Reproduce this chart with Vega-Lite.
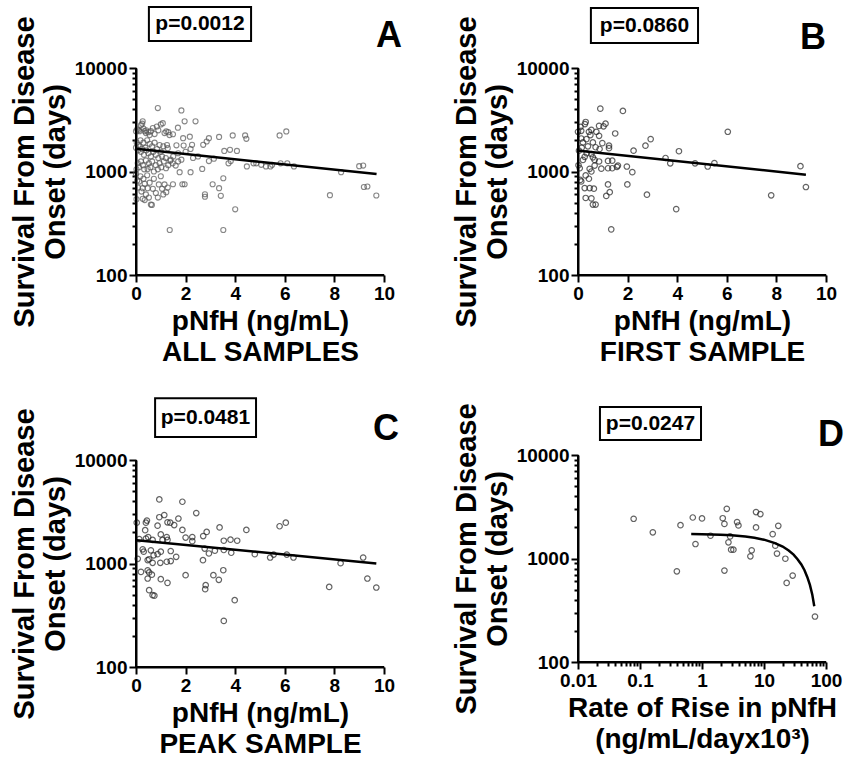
{
  "$schema": "https://vega.github.io/schema/vega-lite/v6.json",
  "background": "white",
  "padding": {"left": 10, "top": 6, "right": 0, "bottom": 0},
  "bounds": "flush",
  "spacing": 442,
  "config": {
    "font": "Liberation Sans",
    "view": {"stroke": null},
    "axis": {
      "domainColor": "black", "domainWidth": 2, "tickColor": "black", "tickWidth": 2, "zindex": 1,
      "labelFont": "Liberation Sans", "labelFontWeight": "bold", "labelFontSize": 19, "labelColor": "black",
      "titleFont": "Liberation Sans", "titleFontWeight": "bold", "titleFontSize": 28, "titleColor": "black",
      "grid": false, "labelPadding": 2, "titlePadding": 4, "titleLineHeight": 31, "labelFlush": false,
      "labelOverlap": false, "labelSeparation": -50, "labelBound": false
    },
    "axisY": {"titleFontSize": 29}
  },
  "datasets": {
    "A": [
      {"x":0.0,"y":2450},{"x":0.05,"y":2550},{"x":0.1,"y":2500},{"x":0.14,"y":2450},{"x":0.2,"y":2800},{"x":0.25,"y":2900},{"x":0.27,"y":3050},{"x":0.3,"y":2600},{"x":0.35,"y":2450},{"x":0.4,"y":2350},{"x":0.41,"y":2500},{"x":0.5,"y":2400},{"x":0.55,"y":2250},{"x":0.6,"y":2450},{"x":0.68,"y":2630},{"x":0.75,"y":2300},{"x":0.84,"y":2720},{"x":0.9,"y":2500},{"x":1.0,"y":2850},{"x":1.08,"y":2930},{"x":1.15,"y":2350},{"x":1.22,"y":2440},{"x":1.3,"y":2400},{"x":1.35,"y":2250},
      {"x":0.0,"y":1700},{"x":0.03,"y":1900},{"x":0.08,"y":1600},{"x":0.1,"y":1800},{"x":0.15,"y":1750},{"x":0.18,"y":2000},{"x":0.2,"y":1550},{"x":0.25,"y":1650},{"x":0.3,"y":1900},{"x":0.32,"y":1450},{"x":0.38,"y":1700},{"x":0.42,"y":1600},{"x":0.45,"y":2000},{"x":0.5,"y":1500},{"x":0.55,"y":1850},{"x":0.6,"y":1400},{"x":0.65,"y":1750},{"x":0.7,"y":1550},{"x":0.75,"y":1900},{"x":0.8,"y":1450},{"x":0.85,"y":1650},{"x":0.9,"y":1350},{"x":0.95,"y":1800},{"x":1.0,"y":1550},{"x":1.05,"y":1400},{"x":1.1,"y":1750},{"x":1.2,"y":1350},{"x":1.25,"y":1800},{"x":1.28,"y":1680},{"x":1.4,"y":1300},{"x":1.5,"y":1400},
      {"x":0.02,"y":1050},{"x":0.07,"y":1200},{"x":0.12,"y":1100},{"x":0.2,"y":1250},{"x":0.28,"y":1150},{"x":0.33,"y":1050},{"x":0.4,"y":1280},{"x":0.47,"y":1060},{"x":0.52,"y":1200},{"x":0.58,"y":1100},{"x":0.65,"y":1250},{"x":0.72,"y":1000},{"x":0.8,"y":1150},{"x":0.88,"y":1050},{"x":0.95,"y":1200},{"x":1.02,"y":1100},{"x":1.12,"y":1250},{"x":1.21,"y":1075},{"x":1.3,"y":1150},{"x":1.38,"y":1270},{"x":1.48,"y":1200},{"x":1.6,"y":1140},{"x":1.7,"y":1250},{"x":1.83,"y":1300},
      {"x":0.0,"y":950},{"x":0.05,"y":820},{"x":0.08,"y":700},{"x":0.13,"y":800},{"x":0.18,"y":900},{"x":0.22,"y":640},{"x":0.27,"y":690},{"x":0.3,"y":850},{"x":0.35,"y":760},{"x":0.4,"y":600},{"x":0.45,"y":920},{"x":0.47,"y":690},{"x":0.52,"y":560},{"x":0.55,"y":780},{"x":0.6,"y":480},{"x":0.64,"y":475},{"x":0.68,"y":680},{"x":0.72,"y":850},{"x":0.8,"y":620},{"x":0.88,"y":560},{"x":0.92,"y":750},{"x":1.0,"y":900},{"x":1.05,"y":680},{"x":1.1,"y":600},{"x":1.15,"y":750},{"x":1.22,"y":630},{"x":1.28,"y":700},{"x":0.02,"y":540},{"x":0.27,"y":545},{"x":0.35,"y":530},
      {"x":0.88,"y":4100},{"x":1.83,"y":3890},{"x":2.4,"y":3050},{"x":1.96,"y":3050},{"x":3.35,"y":2160},{"x":3.9,"y":2230},{"x":4.4,"y":2230},{"x":4.45,"y":2070},{"x":5.79,"y":2230},{"x":6.06,"y":2440},{"x":2.94,"y":2100},{"x":2.85,"y":1950},{"x":2.71,"y":1810},{"x":2.17,"y":2170},{"x":1.9,"y":2100},{"x":1.69,"y":2650},{"x":1.49,"y":2290},{"x":1.63,"y":1790},{"x":1.92,"y":1780},{"x":2.26,"y":1810},{"x":2.3,"y":1350},{"x":3.56,"y":1580},{"x":3.79,"y":1620},{"x":4.07,"y":1580},{"x":3.14,"y":1330},{"x":2.94,"y":1260},{"x":3.73,"y":1200},{"x":3.82,"y":1260},{"x":4.47,"y":1120},{"x":4.74,"y":1200},{"x":4.85,"y":1200},{"x":5.05,"y":1160},{"x":5.24,"y":1120},{"x":5.42,"y":1120},{"x":5.49,"y":1160},{"x":5.83,"y":1200},{"x":6.1,"y":1200},{"x":6.37,"y":1120},{"x":8.27,"y":986},{"x":7.82,"y":590},{"x":2.67,"y":1060},{"x":2.2,"y":986},{"x":1.76,"y":986},{"x":3.52,"y":861},{"x":3.09,"y":753},{"x":3.35,"y":690},{"x":3.42,"y":582},{"x":2.78,"y":603},{"x":2.78,"y":570},{"x":1.87,"y":753},{"x":1.96,"y":753},{"x":1.49,"y":753},{"x":4.0,"y":431},{"x":1.36,"y":272},{"x":3.52,"y":272},{"x":9.0,"y":1125},{"x":9.16,"y":1142},{"x":9.33,"y":716},{"x":9.19,"y":708},{"x":9.69,"y":586},{"x":2.0,"y":1550},{"x":2.2,"y":1650},{"x":1.7,"y":1500},{"x":2.5,"y":1400}
    ],
    "B": [
      {"x":0.9,"y":4050},{"x":1.81,"y":3850},{"x":1.5,"y":2330},{"x":6.04,"y":2420},{"x":2.72,"y":1775},{"x":2.93,"y":2055},{"x":2.24,"y":1590},{"x":4.07,"y":1570},{"x":3.53,"y":1350},{"x":3.72,"y":1200},{"x":4.72,"y":1200},{"x":5.23,"y":1117},{"x":5.5,"y":1205},{"x":8.97,"y":1125},{"x":9.19,"y":708},{"x":7.79,"y":589},{"x":3.96,"y":433},{"x":2.78,"y":597},{"x":1.97,"y":1117},{"x":2.19,"y":986},{"x":1.99,"y":750},{"x":1.34,"y":276},{"x":1.21,"y":750},{"x":1.28,"y":631},{"x":1.14,"y":581},{"x":1.38,"y":1273},{"x":1.21,"y":1265},{"x":1.61,"y":1140},{"x":1.57,"y":1110},{"x":1.38,"y":1075},{"x":1.21,"y":1075},{"x":0.94,"y":1065},{"x":1.25,"y":1775},{"x":1.25,"y":1680},{"x":0.98,"y":1880},{"x":1.11,"y":2900},{"x":1.03,"y":2730},{"x":0.85,"y":2760},{"x":0.85,"y":2210},{"x":0.74,"y":2420},{"x":0.54,"y":2530},{"x":0.44,"y":2420},{"x":0.31,"y":3010},{"x":0.28,"y":2870},{"x":0.13,"y":2470},{"x":0.0,"y":2420},{"x":0.13,"y":2085},{"x":0.34,"y":2055},{"x":0.04,"y":1590},{"x":0.6,"y":1910},{"x":0.71,"y":1715},{"x":0.87,"y":1650},{"x":0.54,"y":1475},{"x":0.27,"y":1385},{"x":0.6,"y":1370},{"x":0.67,"y":1295},{"x":0.2,"y":1295},{"x":0.67,"y":1140},{"x":0.85,"y":1250},{"x":0.47,"y":1062},{"x":0.07,"y":1075},{"x":0.54,"y":1000},{"x":0.31,"y":916},{"x":0.44,"y":851},{"x":0.13,"y":802},{"x":0.27,"y":692},{"x":0.47,"y":692},{"x":0.64,"y":682},{"x":0.31,"y":555},{"x":0.54,"y":550},{"x":0.6,"y":479},{"x":0.71,"y":479},{"x":0.09,"y":830},{"x":0.2,"y":1910},{"x":0.4,"y":1750},{"x":0.15,"y":1700},{"x":0.35,"y":1500},{"x":0.1,"y":2700},{"x":0.5,"y":2250},{"x":0.02,"y":1150}
    ],
    "C": [
      {"x":0.94,"y":4160},{"x":1.87,"y":3950},{"x":2.43,"y":3070},{"x":1.71,"y":2720},{"x":1.14,"y":2940},{"x":0.94,"y":2800},{"x":0.87,"y":2320},{"x":1.27,"y":2500},{"x":1.38,"y":2480},{"x":1.54,"y":2350},{"x":0.44,"y":2600},{"x":0.4,"y":2480},{"x":0.03,"y":2480},{"x":0.37,"y":2100},{"x":1.87,"y":2110},{"x":3.37,"y":2230},{"x":4.45,"y":2110},{"x":5.79,"y":2290},{"x":6.04,"y":2480},{"x":2.85,"y":2020},{"x":2.71,"y":1840},{"x":2.0,"y":1780},{"x":2.27,"y":1800},{"x":2.27,"y":1645},{"x":1.0,"y":1910},{"x":1.24,"y":1800},{"x":1.27,"y":1690},{"x":0.49,"y":1800},{"x":0.13,"y":1720},{"x":3.54,"y":1660},{"x":3.81,"y":1700},{"x":4.08,"y":1660},{"x":2.77,"y":1395},{"x":2.94,"y":1250},{"x":3.18,"y":1330},{"x":3.54,"y":1350},{"x":3.84,"y":1270},{"x":4.79,"y":1230},{"x":5.41,"y":1142},{"x":5.55,"y":1220},{"x":6.08,"y":1220},{"x":6.35,"y":1142},{"x":9.16,"y":1142},{"x":8.25,"y":1007},{"x":9.33,"y":716},{"x":9.69,"y":586},{"x":7.79,"y":594},{"x":3.98,"y":442},{"x":3.54,"y":279},{"x":3.52,"y":861},{"x":3.34,"y":695},{"x":3.12,"y":771},{"x":2.81,"y":617},{"x":2.79,"y":565},{"x":2.0,"y":771},{"x":2.7,"y":1077},{"x":1.62,"y":1161},{"x":1.4,"y":1055},{"x":1.24,"y":1040},{"x":0.98,"y":1015},{"x":0.87,"y":1230},{"x":0.71,"y":1200},{"x":0.53,"y":1100},{"x":0.47,"y":1080},{"x":0.67,"y":1015},{"x":0.07,"y":1110},{"x":0.2,"y":830},{"x":0.47,"y":860},{"x":0.53,"y":820},{"x":0.64,"y":780},{"x":0.47,"y":716},{"x":1.0,"y":705},{"x":1.27,"y":650},{"x":0.53,"y":552},{"x":0.67,"y":494},{"x":0.74,"y":489},{"x":0.27,"y":1370},{"x":0.31,"y":1300},{"x":0.6,"y":1340},{"x":1.0,"y":1300},{"x":1.4,"y":1320},{"x":0.4,"y":1740},{"x":0.67,"y":1690},{"x":1.07,"y":1690}
    ],
    "D": [
      {"x":0.079,"y":2420},{"x":0.161,"y":1790},{"x":0.393,"y":752},{"x":0.45,"y":2100},{"x":0.71,"y":2490},{"x":0.785,"y":1380},{"x":1.0,"y":2440},{"x":1.37,"y":1660},{"x":2.16,"y":2450},{"x":2.3,"y":2160},{"x":2.3,"y":764},{"x":2.51,"y":3020},{"x":2.67,"y":1432},{"x":2.84,"y":1635},{"x":2.95,"y":1217},{"x":3.21,"y":1217},{"x":3.68,"y":2250},{"x":3.87,"y":2085},{"x":6.03,"y":1050},{"x":6.33,"y":1200},{"x":7.44,"y":1995},{"x":7.44,"y":2810},{"x":8.74,"y":2685},{"x":13.8,"y":1720},{"x":15.2,"y":1330},{"x":16.2,"y":1115},{"x":17.0,"y":2070},{"x":22.1,"y":995},{"x":23.2,"y":581},{"x":29.0,"y":684},{"x":66.4,"y":275}
    ],
    "lineA": [{"x":0,"y":1655},{"x":9.7,"y":946}],
    "lineB": [{"x":0.04,"y":1590},{"x":9.19,"y":930}],
    "lineC": [{"x":0.03,"y":1680},{"x":9.69,"y":1000}],
    "lineD": [
      {"x":0.67,"y":1720},{"x":1,"y":1715},{"x":2,"y":1695},{"x":3,"y":1675},{"x":5,"y":1630},{"x":7,"y":1585},{"x":10,"y":1520},{"x":15,"y":1410},{"x":20,"y":1305},{"x":25,"y":1195},{"x":30,"y":1090},{"x":35,"y":980},{"x":40,"y":875},{"x":45,"y":770},{"x":50,"y":660},{"x":55,"y":555},{"x":60,"y":450},{"x":64.7,"y":346}
    ],
    "one": [{}]
  },
  "hconcat": [
    {
      "bounds": "flush",
      "spacing": 185,
      "vconcat": [
        {
          "width": 248, "height": 207,
          "resolve": {"axis": {"x": "independent", "y": "independent"}},
          "layer": [
            {
              "data": {"name": "A"},
              "mark": {"type": "point", "shape": "circle", "filled": false, "size": 26, "strokeWidth": 1.1, "color": "#555"},
              "encoding": {
                "x": {"field": "x", "type": "quantitative", "scale": {"domain": [0, 10], "nice": false, "zero": false},
                      "axis": {"orient": "bottom", "values": [0,1,2,3,4,5,6,7,8,9,10], "tickCount": 10, "tickSize": 7, "labelOverlap": false, "labelSeparation": -50, "title": ["pNfH (ng/mL)", "ALL SAMPLES"]}},
                "y": {"field": "y", "type": "quantitative", "scale": {"type": "log", "domain": [100, 10000], "nice": false},
                      "axis": {"orient": "left", "values": [100,200,300,400,500,600,700,800,900,1000,2000,3000,4000,5000,6000,7000,8000,9000,10000],
                               "labelExpr": "datum.value == 100 || datum.value == 1000 || datum.value == 10000 ? datum.label : ''",
                               "format": "d", "labelOverlap": false,
                               "tickSize": {"condition": {"test": "datum.value == 100 || datum.value == 1000 || datum.value == 10000", "value": 7}, "value": 4},
                               "title": ["Survival From Disease", "Onset (days)"]}}
              }
            },
            {
              "data": {"name": "one"},
              "mark": {"type": "rule", "color": "black", "strokeWidth": 2},
              "encoding": {
                "x": {"datum": 0, "type": "quantitative", "axis": {"labels": false, "ticks": false, "domain": false, "title": null}},
                "y": {"datum": 100, "type": "quantitative", "axis": {"labels": false, "ticks": false, "domain": false, "title": null}}, "y2": {"datum": 10000}
              }
            },
            {
              "data": {"name": "one"},
              "mark": {"type": "rule", "color": "black", "strokeWidth": 2},
              "encoding": {
                "x": {"datum": 0, "type": "quantitative", "axis": {"labels": false, "ticks": false, "domain": false, "title": null}}, "x2": {"datum": 10},
                "y": {"datum": 100, "type": "quantitative", "axis": {"labels": false, "ticks": false, "domain": false, "title": null}}
              }
            },
            {
              "data": {"name": "lineA"},
              "mark": {"type": "line", "color": "black", "strokeWidth": 2.5},
              "encoding": {
                "x": {"field": "x", "type": "quantitative", "axis": {"labels": false, "ticks": false, "domain": false, "title": null}},
                "y": {"field": "y", "type": "quantitative", "axis": {"labels": false, "ticks": false, "domain": false, "title": null}}
              }
            },
            {
              "data": {"name": "one"},
              "mark": {"type": "rect", "fill": "white", "stroke": "black", "strokeWidth": 2},
              "encoding": {
                "x": {"datum": 0.52, "type": "quantitative", "axis": {"labels": false, "ticks": false, "domain": false, "title": null}}, "x2": {"datum": 4.64},
                "y": {"datum": 38800, "type": "quantitative", "axis": {"labels": false, "ticks": false, "domain": false, "title": null}}, "y2": {"datum": 18200}
              }
            },
            {
              "data": {"name": "one"},
              "mark": {"type": "text", "fontSize": 21, "fontWeight": "bold", "align": "center", "baseline": "middle", "color": "black"},
              "encoding": {
                "x": {"datum": 2.58, "type": "quantitative", "axis": {"labels": false, "ticks": false, "domain": false, "title": null}},
                "y": {"datum": 26600, "type": "quantitative", "axis": {"labels": false, "ticks": false, "domain": false, "title": null}},
                "text": {"value": "p=0.0012"}
              }
            },
            {
              "data": {"name": "one"},
              "mark": {"type": "text", "fontSize": 36, "fontWeight": "bold", "align": "center", "baseline": "middle", "color": "black"},
              "encoding": {
                "x": {"datum": 10.2, "type": "quantitative", "axis": {"labels": false, "ticks": false, "domain": false, "title": null}},
                "y": {"datum": 20400, "type": "quantitative", "axis": {"labels": false, "ticks": false, "domain": false, "title": null}},
                "text": {"value": "A"}
              }
            }
          ]
        },
        {
          "width": 248, "height": 207,
          "resolve": {"axis": {"x": "independent", "y": "independent"}},
          "layer": [
            {
              "data": {"name": "C"},
              "mark": {"type": "point", "shape": "circle", "filled": false, "size": 30, "strokeWidth": 1.2, "color": "#222"},
              "encoding": {
                "x": {"field": "x", "type": "quantitative", "scale": {"domain": [0, 10], "nice": false, "zero": false},
                      "axis": {"orient": "bottom", "values": [0,1,2,3,4,5,6,7,8,9,10], "tickCount": 10, "tickSize": 7, "labelOverlap": false, "labelSeparation": -50, "title": ["pNfH (ng/mL)", "PEAK SAMPLE"]}},
                "y": {"field": "y", "type": "quantitative", "scale": {"type": "log", "domain": [100, 10000], "nice": false},
                      "axis": {"orient": "left", "values": [100,200,300,400,500,600,700,800,900,1000,2000,3000,4000,5000,6000,7000,8000,9000,10000],
                               "labelExpr": "datum.value == 100 || datum.value == 1000 || datum.value == 10000 ? datum.label : ''",
                               "format": "d", "labelOverlap": false,
                               "tickSize": {"condition": {"test": "datum.value == 100 || datum.value == 1000 || datum.value == 10000", "value": 7}, "value": 4},
                               "title": ["Survival From Disease", "Onset (days)"]}}
              }
            },
            {
              "data": {"name": "one"},
              "mark": {"type": "rule", "color": "black", "strokeWidth": 2},
              "encoding": {
                "x": {"datum": 0, "type": "quantitative", "axis": {"labels": false, "ticks": false, "domain": false, "title": null}},
                "y": {"datum": 100, "type": "quantitative", "axis": {"labels": false, "ticks": false, "domain": false, "title": null}}, "y2": {"datum": 10000}
              }
            },
            {
              "data": {"name": "one"},
              "mark": {"type": "rule", "color": "black", "strokeWidth": 2},
              "encoding": {
                "x": {"datum": 0, "type": "quantitative", "axis": {"labels": false, "ticks": false, "domain": false, "title": null}}, "x2": {"datum": 10},
                "y": {"datum": 100, "type": "quantitative", "axis": {"labels": false, "ticks": false, "domain": false, "title": null}}
              }
            },
            {
              "data": {"name": "lineC"},
              "mark": {"type": "line", "color": "black", "strokeWidth": 2.5},
              "encoding": {
                "x": {"field": "x", "type": "quantitative", "axis": {"labels": false, "ticks": false, "domain": false, "title": null}},
                "y": {"field": "y", "type": "quantitative", "axis": {"labels": false, "ticks": false, "domain": false, "title": null}}
              }
            },
            {
              "data": {"name": "one"},
              "mark": {"type": "rect", "fill": "white", "stroke": "black", "strokeWidth": 2},
              "encoding": {
                "x": {"datum": 0.77, "type": "quantitative", "axis": {"labels": false, "ticks": false, "domain": false, "title": null}}, "x2": {"datum": 4.84},
                "y": {"datum": 39600, "type": "quantitative", "axis": {"labels": false, "ticks": false, "domain": false, "title": null}}, "y2": {"datum": 16700}
              }
            },
            {
              "data": {"name": "one"},
              "mark": {"type": "text", "fontSize": 21, "fontWeight": "bold", "align": "center", "baseline": "middle", "color": "black"},
              "encoding": {
                "x": {"datum": 2.8, "type": "quantitative", "axis": {"labels": false, "ticks": false, "domain": false, "title": null}},
                "y": {"datum": 25500, "type": "quantitative", "axis": {"labels": false, "ticks": false, "domain": false, "title": null}},
                "text": {"value": "p=0.0481"}
              }
            },
            {
              "data": {"name": "one"},
              "mark": {"type": "text", "fontSize": 36, "fontWeight": "bold", "align": "center", "baseline": "middle", "color": "black"},
              "encoding": {
                "x": {"datum": 10.08, "type": "quantitative", "axis": {"labels": false, "ticks": false, "domain": false, "title": null}},
                "y": {"datum": 19900, "type": "quantitative", "axis": {"labels": false, "ticks": false, "domain": false, "title": null}},
                "text": {"value": "C"}
              }
            }
          ]
        }
      ]
    },
    {
      "bounds": "flush",
      "spacing": 180,
      "vconcat": [
        {
          "width": 248, "height": 207,
          "resolve": {"axis": {"x": "independent", "y": "independent"}},
          "layer": [
            {
              "data": {"name": "B"},
              "mark": {"type": "point", "shape": "circle", "filled": false, "size": 30, "strokeWidth": 1.2, "color": "#222"},
              "encoding": {
                "x": {"field": "x", "type": "quantitative", "scale": {"domain": [0, 10], "nice": false, "zero": false},
                      "axis": {"orient": "bottom", "values": [0,1,2,3,4,5,6,7,8,9,10], "tickCount": 10, "tickSize": 7, "labelOverlap": false, "labelSeparation": -50, "title": ["pNfH (ng/mL)", "FIRST SAMPLE"]}},
                "y": {"field": "y", "type": "quantitative", "scale": {"type": "log", "domain": [100, 10000], "nice": false},
                      "axis": {"orient": "left", "values": [100,200,300,400,500,600,700,800,900,1000,2000,3000,4000,5000,6000,7000,8000,9000,10000],
                               "labelExpr": "datum.value == 100 || datum.value == 1000 || datum.value == 10000 ? datum.label : ''",
                               "format": "d", "labelOverlap": false,
                               "tickSize": {"condition": {"test": "datum.value == 100 || datum.value == 1000 || datum.value == 10000", "value": 7}, "value": 4},
                               "title": ["Survival From Disease", "Onset (days)"]}}
              }
            },
            {
              "data": {"name": "one"},
              "mark": {"type": "rule", "color": "black", "strokeWidth": 2},
              "encoding": {
                "x": {"datum": 0, "type": "quantitative", "axis": {"labels": false, "ticks": false, "domain": false, "title": null}},
                "y": {"datum": 100, "type": "quantitative", "axis": {"labels": false, "ticks": false, "domain": false, "title": null}}, "y2": {"datum": 10000}
              }
            },
            {
              "data": {"name": "one"},
              "mark": {"type": "rule", "color": "black", "strokeWidth": 2},
              "encoding": {
                "x": {"datum": 0, "type": "quantitative", "axis": {"labels": false, "ticks": false, "domain": false, "title": null}}, "x2": {"datum": 10},
                "y": {"datum": 100, "type": "quantitative", "axis": {"labels": false, "ticks": false, "domain": false, "title": null}}
              }
            },
            {
              "data": {"name": "lineB"},
              "mark": {"type": "line", "color": "black", "strokeWidth": 2.5},
              "encoding": {
                "x": {"field": "x", "type": "quantitative", "axis": {"labels": false, "ticks": false, "domain": false, "title": null}},
                "y": {"field": "y", "type": "quantitative", "axis": {"labels": false, "ticks": false, "domain": false, "title": null}}
              }
            },
            {
              "data": {"name": "one"},
              "mark": {"type": "rect", "fill": "white", "stroke": "black", "strokeWidth": 2},
              "encoding": {
                "x": {"datum": 0.52, "type": "quantitative", "axis": {"labels": false, "ticks": false, "domain": false, "title": null}}, "x2": {"datum": 4.84},
                "y": {"datum": 38000, "type": "quantitative", "axis": {"labels": false, "ticks": false, "domain": false, "title": null}}, "y2": {"datum": 17450}
              }
            },
            {
              "data": {"name": "one"},
              "mark": {"type": "text", "fontSize": 21, "fontWeight": "bold", "align": "center", "baseline": "middle", "color": "black"},
              "encoding": {
                "x": {"datum": 2.68, "type": "quantitative", "axis": {"labels": false, "ticks": false, "domain": false, "title": null}},
                "y": {"datum": 25700, "type": "quantitative", "axis": {"labels": false, "ticks": false, "domain": false, "title": null}},
                "text": {"value": "p=0.0860"}
              }
            },
            {
              "data": {"name": "one"},
              "mark": {"type": "text", "fontSize": 36, "fontWeight": "bold", "align": "center", "baseline": "middle", "color": "black"},
              "encoding": {
                "x": {"datum": 9.48, "type": "quantitative", "axis": {"labels": false, "ticks": false, "domain": false, "title": null}},
                "y": {"datum": 19500, "type": "quantitative", "axis": {"labels": false, "ticks": false, "domain": false, "title": null}},
                "text": {"value": "B"}
              }
            }
          ]
        },
        {
          "width": 248, "height": 207,
          "resolve": {"axis": {"x": "independent", "y": "independent"}},
          "layer": [
            {
              "data": {"name": "D"},
              "mark": {"type": "point", "shape": "circle", "filled": false, "size": 30, "strokeWidth": 1.2, "color": "#222"},
              "encoding": {
                "x": {"field": "x", "type": "quantitative", "scale": {"type": "log", "domain": [0.01, 100], "nice": false},
                      "axis": {"orient": "bottom", "values": [0.01,0.02,0.03,0.04,0.05,0.06,0.07,0.08,0.09,0.1,0.2,0.3,0.4,0.5,0.6,0.7,0.8,0.9,1,2,3,4,5,6,7,8,9,10,20,30,40,50,60,70,80,90,100],
                               "labelExpr": "datum.value == 0.01 || datum.value == 0.1 || datum.value == 1 || datum.value == 10 || datum.value == 100 ? datum.label : ''",
                               "format": "~g", "labelOverlap": false,
                               "tickSize": {"condition": {"test": "datum.value == 0.01 || datum.value == 0.1 || datum.value == 1 || datum.value == 10 || datum.value == 100", "value": 7}, "value": 4},
                               "title": ["Rate of Rise in pNfH", "(ng/mL/dayx10³)"]}},
                "y": {"field": "y", "type": "quantitative", "scale": {"type": "log", "domain": [100, 10000], "nice": false},
                      "axis": {"orient": "left", "values": [100,200,300,400,500,600,700,800,900,1000,2000,3000,4000,5000,6000,7000,8000,9000,10000],
                               "labelExpr": "datum.value == 100 || datum.value == 1000 || datum.value == 10000 ? datum.label : ''",
                               "format": "d", "labelOverlap": false,
                               "tickSize": {"condition": {"test": "datum.value == 100 || datum.value == 1000 || datum.value == 10000", "value": 7}, "value": 4},
                               "title": ["Survival From Disease", "Onset (days)"]}}
              }
            },
            {
              "data": {"name": "one"},
              "mark": {"type": "rule", "color": "black", "strokeWidth": 2},
              "encoding": {
                "x": {"datum": 0.01, "type": "quantitative", "axis": {"labels": false, "ticks": false, "domain": false, "title": null}},
                "y": {"datum": 100, "type": "quantitative", "axis": {"labels": false, "ticks": false, "domain": false, "title": null}}, "y2": {"datum": 10000}
              }
            },
            {
              "data": {"name": "one"},
              "mark": {"type": "rule", "color": "black", "strokeWidth": 2},
              "encoding": {
                "x": {"datum": 0.01, "type": "quantitative", "axis": {"labels": false, "ticks": false, "domain": false, "title": null}}, "x2": {"datum": 100},
                "y": {"datum": 100, "type": "quantitative", "axis": {"labels": false, "ticks": false, "domain": false, "title": null}}
              }
            },
            {
              "data": {"name": "lineD"},
              "mark": {"type": "line", "color": "black", "strokeWidth": 2.5},
              "encoding": {
                "x": {"field": "x", "type": "quantitative", "axis": {"labels": false, "ticks": false, "domain": false, "title": null}},
                "y": {"field": "y", "type": "quantitative", "axis": {"labels": false, "ticks": false, "domain": false, "title": null}}
              }
            },
            {
              "data": {"name": "one"},
              "mark": {"type": "rect", "fill": "white", "stroke": "black", "strokeWidth": 2},
              "encoding": {
                "x": {"datum": 0.0226, "type": "quantitative", "axis": {"labels": false, "ticks": false, "domain": false, "title": null}}, "x2": {"datum": 0.964},
                "y": {"datum": 29100, "type": "quantitative", "axis": {"labels": false, "ticks": false, "domain": false, "title": null}}, "y2": {"datum": 13960}
              }
            },
            {
              "data": {"name": "one"},
              "mark": {"type": "text", "fontSize": 21, "fontWeight": "bold", "align": "center", "baseline": "middle", "color": "black"},
              "encoding": {
                "x": {"datum": 0.1476, "type": "quantitative", "axis": {"labels": false, "ticks": false, "domain": false, "title": null}},
                "y": {"datum": 20100, "type": "quantitative", "axis": {"labels": false, "ticks": false, "domain": false, "title": null}},
                "text": {"value": "p=0.0247"}
              }
            },
            {
              "data": {"name": "one"},
              "mark": {"type": "text", "fontSize": 36, "fontWeight": "bold", "align": "center", "baseline": "middle", "color": "black"},
              "encoding": {
                "x": {"datum": 120, "type": "quantitative", "axis": {"labels": false, "ticks": false, "domain": false, "title": null}},
                "y": {"datum": 15600, "type": "quantitative", "axis": {"labels": false, "ticks": false, "domain": false, "title": null}},
                "text": {"value": "D"}
              }
            }
          ]
        }
      ]
    }
  ]
}
